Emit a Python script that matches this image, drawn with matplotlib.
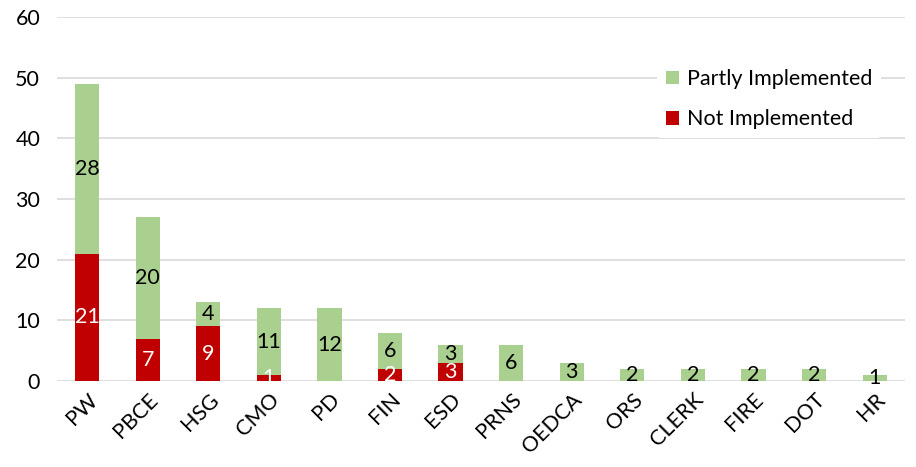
import matplotlib.pyplot as plt
import numpy as np

# departements et nombre de recommandations
categories = ['PW', 'PBCE', 'HSG', 'CMO', 'PD', 'FIN', 'ESD', 'PRNS',
              'OEDCA', 'ORS', 'CLERK', 'FIRE', 'DOT', 'HR']
not_impl = [21, 7, 9, 1, 0, 2, 3, 0, 0, 0, 0, 0, 0, 0]
partly_impl = [28, 20, 4, 11, 12, 6, 3, 6, 3, 2, 2, 2, 2, 1]
yticks = [0, 10, 20, 30, 40, 50, 60]

plt.rcParams['font.family'] = ['Lato', 'DejaVu Sans']
taille = 15.5

fig = plt.figure(figsize=(9.16, 4.67), dpi=100)
ax = fig.add_axes([0.062, 0.184, 0.926, 0.78])

x = np.arange(len(categories))
largeur = 0.4

b_red = ax.bar(x, not_impl, width=largeur, color='#C00000',
               label='Not Implemented', zorder=3)
b_green = ax.bar(x, partly_impl, width=largeur, bottom=not_impl,
                 color='#A9D08E', label='Partly Implemented', zorder=3)

# etiquettes au centre des segments (pas de zero)
ax.bar_label(b_red, labels=[str(v) if v else '' for v in not_impl],
             label_type='center', color='white', fontsize=taille)
ax.bar_label(b_green, labels=[str(v) if v else '' for v in partly_impl],
             label_type='center', color='black', fontsize=taille)

ax.set_xlim(-0.5, len(categories) - 0.5)
ax.set_ylim(0, 60)
ax.set_yticks(yticks)
ax.set_xticks(x)
ax.set_xticklabels(categories, rotation=45, ha='right', rotation_mode='anchor')
ax.tick_params(axis='both', length=0, labelsize=taille)
ax.tick_params(axis='y', pad=12)
ax.tick_params(axis='x', pad=6)

ax.grid(axis='y', color='#D9D9D9', linewidth=1.2, zorder=0)
for s in ax.spines.values():
    s.set_visible(False)

handles = [b_green, b_red]
leg = ax.legend(handles, [h.get_label() for h in handles],
                loc='upper left', bbox_to_anchor=(0.695, 0.91),
                fontsize=taille, frameon=True, edgecolor='none', framealpha=1,
                handlelength=0.6, handleheight=0.6, handletextpad=0.4,
                labelspacing=0.95, borderpad=0.4)
leg.set_zorder(5)

fig.savefig('out.png', dpi=100)
